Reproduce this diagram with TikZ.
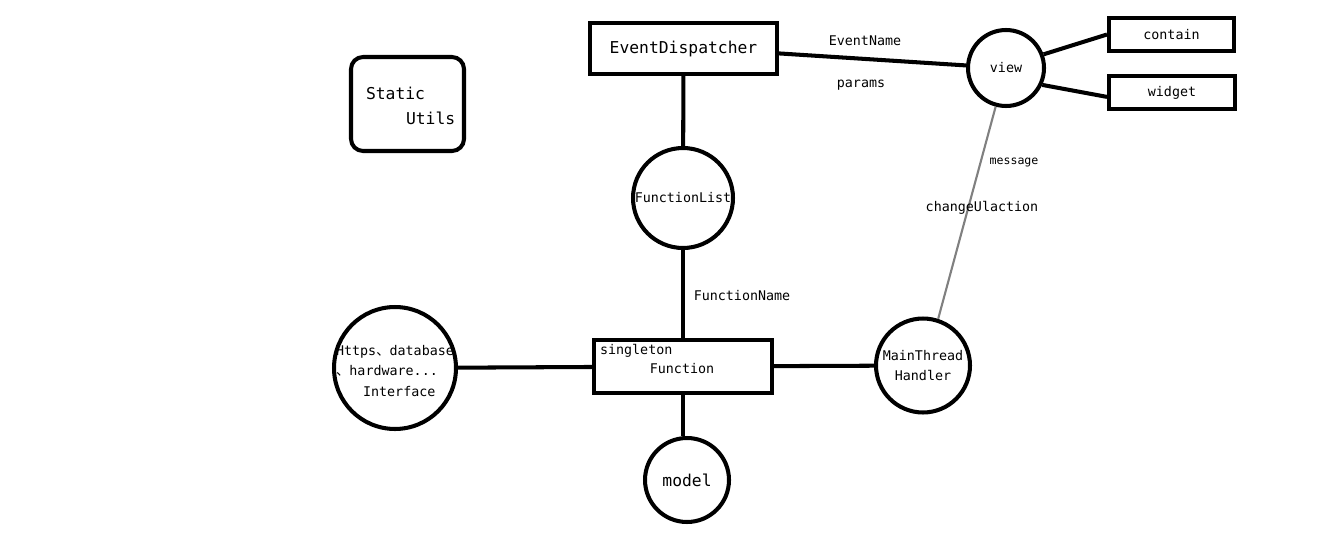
\documentclass[tikz,border=0pt]{standalone}
\usepackage{fontspec}
\setmainfont{DejaVu Sans Mono}
\newfontfamily\cjk{Noto Sans CJK SC}
\usetikzlibrary{positioning}

\begin{document}
\begin{tikzpicture}[x=0.02cm, y=-0.02cm, line width=2.3pt,
  box/.style = {shape=rectangle, draw, align=center, inner sep=0pt},
  ball/.style = {shape=circle, draw, align=center, inner sep=0pt},
  lbl/.style = {inner sep=0pt, font=\fontsize{7.6}{11.4}\selectfont},
  big/.style = {inner sep=0pt, font=\fontsize{9.3}{14}\selectfont}]
  \useasboundingbox (0,0) rectangle (1338,534);
  % boxes
  \node[box, big, minimum width=3.74cm, minimum height=1.02cm] (disp) at (683.5,48.5) {EventDispatcher};
  \node[box, rounded corners=0.24cm, minimum width=2.26cm, minimum height=1.88cm] (utils) at (407.5,104) {};
  \node[big, anchor=west] (static) at (364,93) {Static};
  \node[big, anchor=west] (utilname) at (404,118) {Utils};
  \node[box, lbl, minimum width=2.5cm, minimum height=0.66cm] (contain) at (1171.5,34.5) {contain};
  \node[box, lbl, minimum width=2.52cm, minimum height=0.66cm] (widget) at (1172,92.5) {widget};
  \node[box, lbl, minimum width=3.56cm, minimum height=1.06cm] (func) at (683,366.5) {};
  \node[lbl] (functxt) at (682,369) {Function};
  \node[lbl, anchor=west] (single) at (598,351) {singleton};
  % circles
  \node[ball, lbl, minimum size=1.52cm] (view) at (1006,68) {view};
  \node[ball, lbl, minimum size=2.0cm] (flist) at (683,198) {FunctionList};
  \node[ball, minimum size=2.44cm] (iface) at (395,368) {};
  \node[lbl, align=left] (ifacetxt) at (395,371)
    {Https{\cjk 、}database\\{\cjk 、}hardware...\\\hspace*{0.54cm}Interface};
  \node[ball, lbl, minimum size=1.88cm] (handler) at (923,365.5) {MainThread\\Handler};
  \node[ball, big, minimum size=1.68cm] (model) at (687,480) {model};
  % connectors
  \draw (disp) -- (flist);
  \draw (flist) -- (func);
  \draw (func.south) -- (func.south |- model.north);
  \draw (iface) -- (func);
  \draw (func) -- (handler);
  \draw ([yshift=-2.8pt]disp.east) -- (view);
  \draw (view.20) -- (contain.west);
  \draw (view.-25) -- ([yshift=-2.5pt]widget.west);
  \draw[gray, line width=1.2pt] (view.-105) -- (handler.72);
  % labels
  \node[lbl] (evname) at (865,41) {EventName};
  \node[lbl] (params) at (861,85) {params};
  \node[lbl, font=\fontsize{6.6}{8}\selectfont] (msg) at (1014,162) {message};
  \node[lbl] (change) at (982,208) {changeUlaction};
  \node[lbl] (fname) at (742,296) {FunctionName};
\end{tikzpicture}
\end{document}
